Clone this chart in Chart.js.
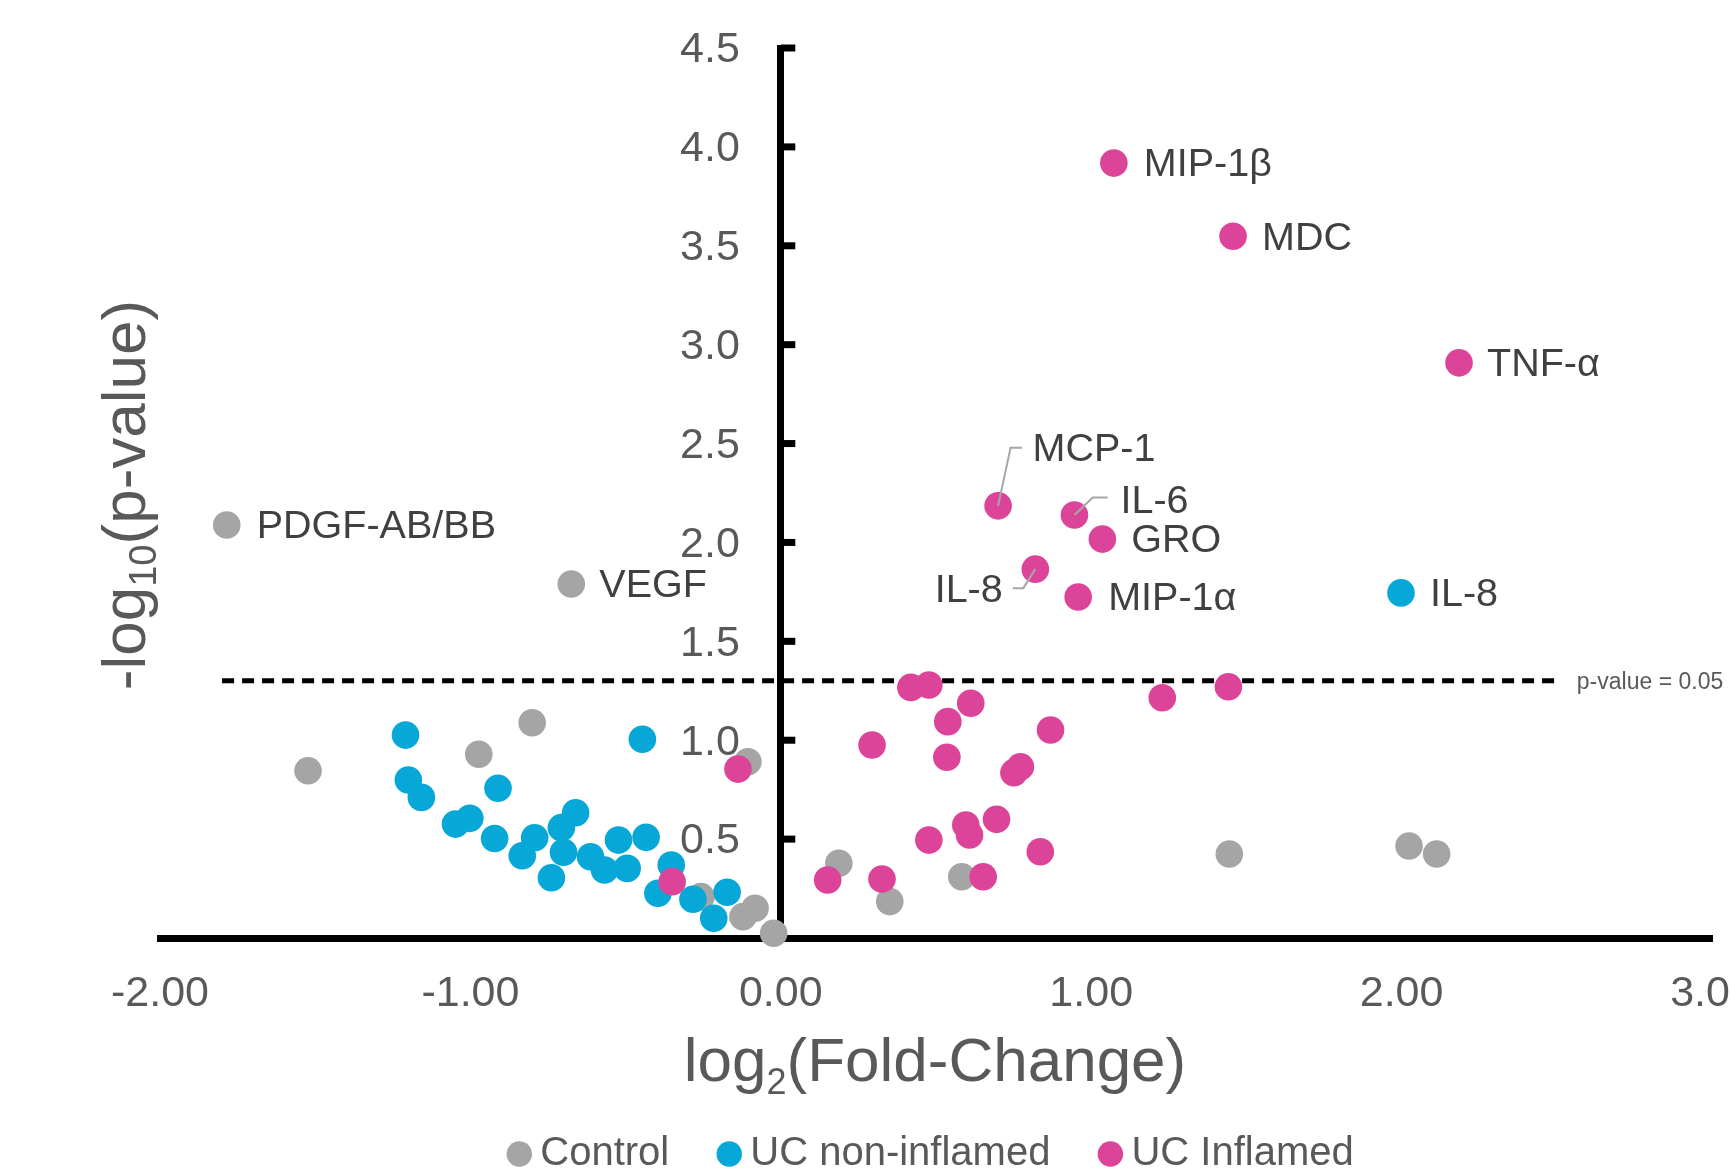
<!DOCTYPE html>
<html>
<head>
<meta charset="utf-8">
<script src="https://cdn.jsdelivr.net/npm/chart.js@4.4.1/dist/chart.umd.min.js"></script>
<style>
  html, body { margin: 0; padding: 0; background: #ffffff; }
  #wrap { width: 1731px; height: 1171px; position: relative; }
</style>
</head>
<body>
<div id="wrap"><canvas id="c" width="1731" height="1171"></canvas></div>
<script>
// ---------- DATA ----------
const seriesNames = ['Control', 'UC non-inflamed', 'UC Inflamed'];

const controlX = [-1.785, -0.675, -1.523, -0.973, -0.801, -0.106, -0.257, -0.122, -0.083, -0.023, 0.187, 0.351, 0.583, 1.445, 2.024, 2.113];
const controlY = [2.088, 1.790, 0.846, 0.929, 1.088, 0.891, 0.209, 0.108, 0.150, 0.024, 0.378, 0.184, 0.310, 0.425, 0.465, 0.425];

const nonInflX = [-1.209, -1.200, -1.158, -0.911, -1.048, -1.002, -0.922, -0.833, -0.793, -0.739, -0.707, -0.661, -0.700, -0.613, -0.568, -0.523, -0.495, -0.434, -0.446, -0.353, -0.396, -0.283, -0.173, -0.216, 1.998];
const nonInflY = [1.026, 0.799, 0.711, 0.757, 0.576, 0.605, 0.503, 0.416, 0.507, 0.305, 0.558, 0.633, 0.433, 0.411, 0.344, 0.495, 0.352, 0.509, 1.005, 0.369, 0.226, 0.196, 0.231, 0.100, 1.745];

const inflX = [1.073, 1.457, 2.185, 0.700, 0.946, 1.036, 0.820, 0.958, 0.419, 0.477, 0.612, 0.538, 0.869, 0.294, 0.535, 0.772, 0.751, 1.229, 1.442, 0.695, 0.596, 0.608, 0.477, 0.836, 0.151, 0.326, 0.652, -0.138, -0.350];
const inflY = [3.918, 3.548, 2.908, 2.185, 2.139, 2.017, 1.865, 1.724, 1.267, 1.279, 1.187, 1.094, 1.052, 0.976, 0.914, 0.866, 0.836, 1.215, 1.270, 0.600, 0.571, 0.521, 0.495, 0.436, 0.293, 0.298, 0.310, 0.854, 0.285];

// significance threshold line
const pThreshold = 0.05;
const thresholdY = -Math.log10(pThreshold);
const thresholdXRange = [-1.8, 2.5];
const thresholdText = 'p-value = 0.05';

// labelled points: text, dataset index, point index
const labelText   = ['MIP-1β', 'MDC', 'TNF-α', 'MCP-1', 'IL-6', 'GRO', 'IL-8', 'MIP-1α', 'IL-8', 'PDGF-AB/BB', 'VEGF'];
const labelSeries = [2, 2, 2, 2, 2, 2, 2, 2, 1, 0, 0];
const labelPoint  = [0, 1, 2, 3, 4, 5, 6, 7, 24, 0, 1];

// tick labels
const xTickLabels = ['-2.00', '-1.00', '0.00', '1.00', '2.00', '3.00'];
const yTickLabels = ['', '0.5', '1.0', '1.5', '2.0', '2.5', '3.0', '3.5', '4.0', '4.5'];

// ---------- STYLE ----------
const FONT = '"Liberation Sans", Arial, Helvetica, sans-serif';
const colors = ['#A5A5A5', '#07A8D7', '#DC4499'];
const labelStyle = [
  {dx: 30, dy: 0, align: 'left'},
  {dx: 29, dy: 0, align: 'left'},
  {dx: 28, dy: 0, align: 'left'},
  {dx: 34.5, dy: -58, align: 'left', leader: [[12.5, -58], [24, -58]]},
  {dx: 46, dy: -15.3, align: 'left', leader: [[18.3, -17.4], [33.3, -17.4]]},
  {dx: 29, dy: 0, align: 'left'},
  {dx: -32.6, dy: 19.5, align: 'right', leader: [[-12, 19], [-22.6, 19]]},
  {dx: 30, dy: 0, align: 'left'},
  {dx: 29, dy: 0, align: 'left'},
  {dx: 30, dy: 0, align: 'left'},
  {dx: 28, dy: 0, align: 'left'}
];

function pts(xs, ys) { return xs.map((v, i) => ({x: v, y: ys[i]})); }

function richWidth(ctx, parts) {
  let w = 0;
  parts.forEach(p => { ctx.font = p.size + 'px ' + FONT; w += ctx.measureText(p.t).width; });
  return w;
}
function drawRich(ctx, parts, startX, baseY) {
  let cx = startX;
  parts.forEach(p => {
    ctx.font = p.size + 'px ' + FONT;
    ctx.fillText(p.t, cx, baseY + (p.dy || 0));
    cx += ctx.measureText(p.t).width;
  });
}

const annotPlugin = {
  id: 'annot',
  afterDatasetsDraw(chart) {
    const ctx = chart.ctx;
    ctx.save();
    // leader lines
    labelText.forEach((t, i) => {
      const st = labelStyle[i];
      if (!st.leader) return;
      const el = chart.getDatasetMeta(labelSeries[i]).data[labelPoint[i]];
      ctx.strokeStyle = '#A6A6A6';
      ctx.lineWidth = 2;
      ctx.beginPath();
      ctx.moveTo(el.x, el.y);
      st.leader.forEach(p => ctx.lineTo(el.x + p[0], el.y + p[1]));
      ctx.stroke();
    });
    // point labels
    ctx.font = '39.5px ' + FONT;
    ctx.fillStyle = '#404040';
    ctx.textBaseline = 'middle';
    labelText.forEach((t, i) => {
      const st = labelStyle[i];
      const el = chart.getDatasetMeta(labelSeries[i]).data[labelPoint[i]];
      ctx.textAlign = st.align;
      ctx.fillText(t, el.x + st.dx, el.y + st.dy + 2.5);
    });
    // threshold label
    const xs = chart.scales.x, ys = chart.scales.y;
    ctx.font = '23px ' + FONT;
    ctx.fillStyle = '#595959';
    ctx.textAlign = 'left';
    ctx.fillText(thresholdText, xs.getPixelForValue(thresholdXRange[1]) + 20, ys.getPixelForValue(thresholdY) + 2);
    ctx.restore();
  },
  afterDraw(chart) {
    const ctx = chart.ctx;
    const xs = chart.scales.x, ys = chart.scales.y;
    const ca = chart.chartArea;
    const x0 = xs.getPixelForValue(0);
    ctx.save();
    // y tick marks (pointing right) and labels
    ys.ticks.forEach((t, i) => {
      if (!yTickLabels[i]) return;
      const py = ys.getPixelForValue(t.value);
      ctx.fillStyle = '#000';
      ctx.fillRect(x0, py - 3.5, 14.5, 7);
      ctx.font = '43px ' + FONT;
      ctx.fillStyle = '#595959';
      ctx.textAlign = 'right';
      ctx.textBaseline = 'middle';
      ctx.fillText(yTickLabels[i], x0 - 41, py + 2.5);
    });
    // x axis title
    ctx.fillStyle = '#595959';
    ctx.textAlign = 'left';
    ctx.textBaseline = 'alphabetic';
    const xParts = [{t: 'log', size: 62}, {t: '2', size: 36, dy: 13}, {t: '(Fold-Change)', size: 62}];
    const xw = richWidth(ctx, xParts);
    drawRich(ctx, xParts, (ca.left + ca.right) / 2 - 1 - xw / 2, ca.bottom + 143);
    // y axis title (rotated)
    const yParts = [{t: '-log', size: 62}, {t: '10', size: 38, dy: 11}, {t: '(p-value)', size: 62}];
    const yw = richWidth(ctx, yParts);
    ctx.translate(ca.left - 15, (ca.top + ca.bottom) / 2 + 2);
    ctx.rotate(-Math.PI / 2);
    drawRich(ctx, yParts, -yw / 2, 0);
    ctx.restore();
  }
};

const pointCommon = { pointRadius: 13.8, pointHoverRadius: 13.8, borderWidth: 0, clip: false, pointStyle: 'circle' };

new Chart(document.getElementById('c'), {
  type: 'scatter',
  data: {
    datasets: [
      Object.assign({ label: seriesNames[0], data: pts(controlX, controlY), backgroundColor: colors[0], borderColor: colors[0], order: 3 }, pointCommon),
      Object.assign({ label: seriesNames[1], data: pts(nonInflX, nonInflY), backgroundColor: colors[1], borderColor: colors[1], order: 2 }, pointCommon),
      Object.assign({ label: seriesNames[2], data: pts(inflX, inflY), backgroundColor: colors[2], borderColor: colors[2], order: 1 }, pointCommon),
      {
        label: 'threshold',
        data: [{x: thresholdXRange[0], y: thresholdY}, {x: thresholdXRange[1], y: thresholdY}],
        showLine: true, borderColor: '#000000', backgroundColor: '#000000', borderWidth: 5,
        borderDash: [12, 8], pointRadius: 0, order: 4, clip: false
      }
    ]
  },
  options: {
    responsive: false,
    animation: false,
    events: [],
    layout: { padding: { left: 160, right: 19, top: 48, bottom: -13 } },
    scales: {
      x: {
        type: 'linear', min: -2, max: 3,
        ticks: {
          stepSize: 1,
          callback: (v, i) => xTickLabels[i],
          font: { size: 43, family: FONT }, color: '#595959', padding: 30, maxRotation: 0, autoSkip: false
        },
        grid: { display: false, drawTicks: false },
        border: { display: true, color: '#000000', width: 7 },
        afterFit: (s) => { s.height = 137; s.paddingLeft = 0; s.paddingRight = 0; }
      },
      y: {
        type: 'linear', position: { x: 0 }, min: 0, max: 4.5,
        ticks: { stepSize: 0.5, display: false },
        grid: { display: false, drawTicks: false },
        border: { display: true, color: '#000000', width: 7 }
      }
    },
    plugins: {
      tooltip: { enabled: false },
      legend: {
        position: 'bottom',
        labels: {
          usePointStyle: true, pointStyle: 'circle', boxWidth: 2, boxHeight: 18, padding: 59,
          font: { size: 40, family: FONT }, color: '#595959',
          filter: (item) => item.datasetIndex < 3,
          sort: (a, b) => a.datasetIndex - b.datasetIndex
        }
      }
    }
  },
  plugins: [annotPlugin]
});
</script>
</body>
</html>
